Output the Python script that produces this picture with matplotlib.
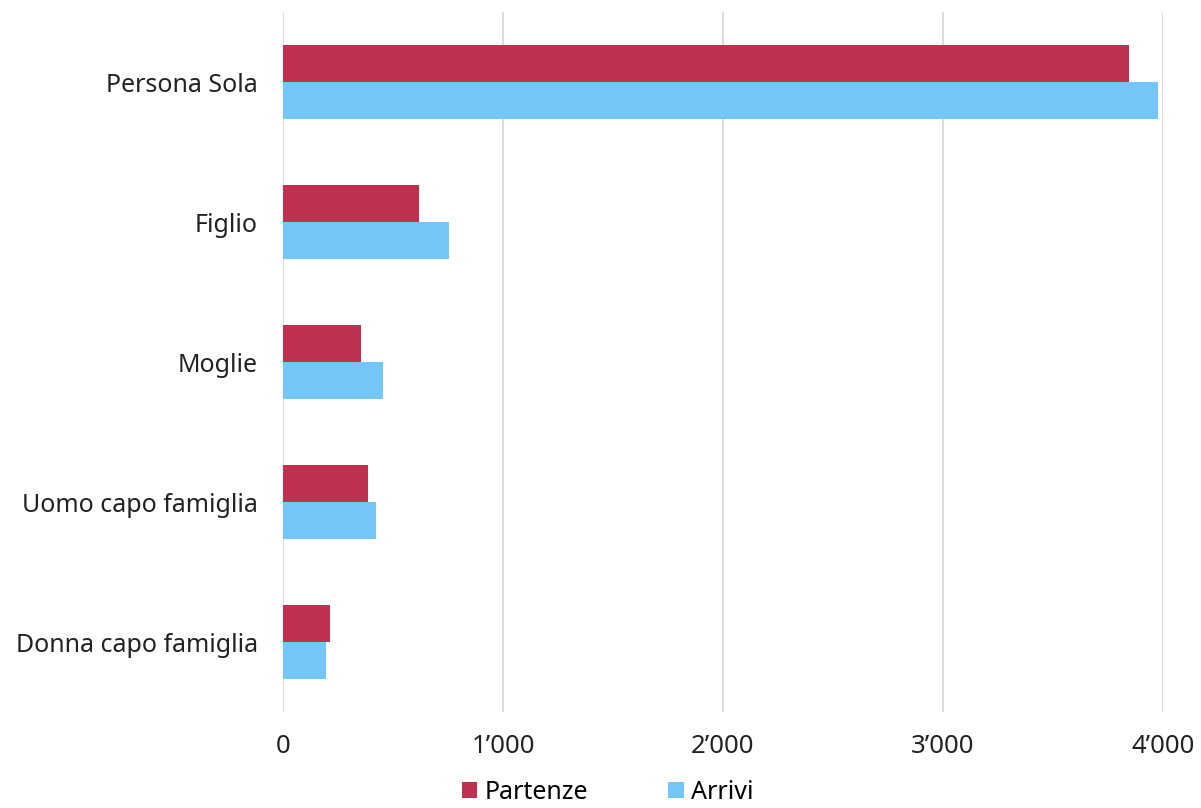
import matplotlib.pyplot as plt
from matplotlib.ticker import FuncFormatter
import numpy as np

categories = ["Persona Sola", "Figlio", "Moglie", "Uomo capo famiglia", "Donna capo famiglia"]
partenze = [3844, 618, 354, 385, 212]
arrivi = [3977, 753, 453, 423, 195]
xticks = [0, 1000, 2000, 3000, 4000]

RED = "#C0304F"
BLUE = "#73C6F7"

plt.rcParams['font.family'] = ['Noto Sans', 'DejaVu Sans']

fig = plt.figure(figsize=(12.01, 8.08), dpi=100)
ax = fig.add_axes([283 / 1201, 1 - 712 / 808, (1163 - 283) / 1201, 700 / 808])

y = np.arange(len(categories))
h = 0.265
ax.barh(y - h / 2, partenze, height=h, color=RED, label="Partenze", zorder=3)
ax.barh(y + h / 2, arrivi, height=h, color=BLUE, label="Arrivi", zorder=3)

ax.set_ylim(len(categories) - 0.5, -0.5)
ax.set_yticks(y)
ax.set_yticklabels(categories, fontsize=18, color="#222222")
ax.set_xlim(0, 4000)
ax.set_xticks(xticks)
ax.xaxis.set_major_formatter(FuncFormatter(lambda v, p: f"{int(v):,}".replace(",", "\u2019")))
ax.tick_params(axis='x', labelsize=18.5, colors="#222222", length=0, pad=16)
ax.tick_params(axis='y', length=0, pad=18)
ax.grid(axis='x', color="#D9D9D9", linewidth=1.3, zorder=0)
for s in ax.spines.values():
    s.set_visible(False)

fig.legend(loc='lower center', bbox_to_anchor=(0.506, -0.024), ncol=2, frameon=False,
           fontsize=18, handlelength=0.62, handleheight=0.6, handletextpad=0.3,
           columnspacing=3.2)

fig.savefig("out.png", dpi=100, facecolor="white")
